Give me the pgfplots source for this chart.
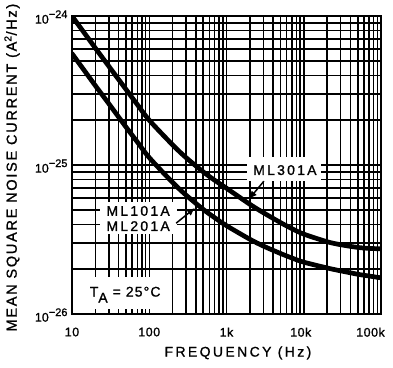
\documentclass[border=0pt]{standalone}
\usepackage{fontspec}
\setmainfont{Liberation Sans}[FakeBold=1.1]
\usepackage{pgfplots}
\pgfplotsset{compat=1.18}
\usetikzlibrary{arrows.meta}
\newcommand{\ytl}[1]{10\raisebox{0.45em}{\fontsize{11}{11}\selectfont −#1}}
\begin{document}
\begin{tikzpicture}
\begin{axis}[
  scale only axis, width=309pt, height=298pt,
  xmode=log, ymode=log,
  xmin=10, xmax=100000, ymin=1e-26, ymax=1e-24,
  grid=both,
  major grid style={black, line width=1.5pt},
  minor grid style={black, line width=1.5pt},
  axis line style={black, line width=2.2pt},
  tick style={draw=none},
  xtick={10,100,1000,10000,100000},
  xticklabels={10,100,1k,\hspace*{-6pt}10k,\hspace*{-21pt}100k},
  minor xtick={20,30,40,50,60,70,80,90,200,300,400,500,600,700,800,900,2000,3000,4000,5000,6000,7000,8000,9000,20000,30000,40000,50000,60000,70000,80000,90000},
  ytick={1e-26,1e-25,1e-24},
  yticklabels={\ytl{26},\ytl{25},\ytl{24}},
  minor ytick={2e-26,3e-26,4e-26,5e-26,6e-26,7e-26,8e-26,9e-26,2e-25,3e-25,4e-25,5e-25,6e-25,7e-25,8e-25,9e-25},
  xticklabel style={font=\fontsize{12.5}{14}\selectfont\addfontfeature{LetterSpace=4}, anchor=north, yshift=-10pt},
  yticklabel style={font=\fontsize{12.5}{14}\selectfont, anchor=east, xshift=-1pt, yshift=-1pt},
  xlabel={FREQUENCY (Hz)},
  ylabel={MEAN SQUARE NOISE CURRENT (A\textsuperscript{2}/Hz)},
  xlabel style={font=\fontsize{14}{16}\selectfont\addfontfeature{LetterSpace=17}, at={(rel axis cs:0.537,-0.1305)}, anchor=center},
  ylabel style={font=\fontsize{14.5}{16}\selectfont\addfontfeature{LetterSpace=12}, at={(rel axis cs:-0.194,0.4916)}, anchor=center},
]
% ML301A
\addplot[black, line width=4.7pt, smooth, line cap=round] coordinates {
 (10,1.0e-24) (20,6.11e-25) (30,4.60e-25) (50,3.22e-25) (70,2.55e-25) (100,2.0e-25)
 (200,1.368e-25) (300,1.121e-25) (500,9.0e-26) (700,7.92e-26) (1000,6.99e-26)
 (2000,5.46e-26) (3000,4.79e-26) (5000,4.11e-26) (7000,3.75e-26) (10000,3.44e-26)
 (20000,3.06e-26) (30000,2.92e-26) (50000,2.80e-26) (70000,2.76e-26) (100000,2.74e-26)
};
% ML101A / ML201A
\addplot[black, line width=4.7pt, smooth, line cap=round] coordinates {
 (10,5.6e-25) (20,3.42e-25) (30,2.58e-25) (50,1.80e-25) (70,1.43e-25) (100,1.122e-25)
 (200,7.66e-26) (300,6.28e-26) (500,5.04e-26) (700,4.44e-26) (1000,3.92e-26)
 (2000,3.18e-26) (3000,2.86e-26) (5000,2.55e-26) (7000,2.38e-26) (10000,2.23e-26)
 (20000,2.04e-26) (30000,1.95e-26) (50000,1.85e-26) (70000,1.80e-26) (100000,1.75e-26)
};
\fill[white] (rel axis cs:0.566,0.446) rectangle (rel axis cs:0.806,0.527);
\fill[white] (rel axis cs:0.0906,0.268) rectangle (rel axis cs:0.340,0.376);
\fill[white] (rel axis cs:0.008,0.0185) rectangle (rel axis cs:0.324,0.124);
\node[font=\fontsize{14}{16}\selectfont\addfontfeature{LetterSpace=16}, inner sep=0] at (rel axis cs:0.689,0.483) {ML301A};
\node[font=\fontsize{14}{16}\selectfont\addfontfeature{LetterSpace=16}, inner sep=0] at (rel axis cs:0.214,0.346) {ML101A};
\node[font=\fontsize{14}{16}\selectfont\addfontfeature{LetterSpace=16}, inner sep=0] at (rel axis cs:0.214,0.295) {ML201A};
\node[font=\fontsize{14}{16}\selectfont\addfontfeature{LetterSpace=8}, inner sep=0] at (rel axis cs:0.172,0.065) {T\raisebox{-6pt}{A} = 25°C};
\draw[-{Latex[length=8pt,width=7pt]}, line width=1.5pt] (rel axis cs:0.621,0.446) -- (rel axis cs:0.573,0.386);
\draw[-{Latex[length=8pt,width=7pt]}, line width=1.5pt] (rel axis cs:0.337,0.305) -- (rel axis cs:0.398,0.356);
\coordinate (bl) at (rel axis cs:-0.2330,-0.1779);
\coordinate (tr) at (rel axis cs:1.0388,1.0537);
\end{axis}
\pgfresetboundingbox
\path[use as bounding box] (bl) rectangle (tr);
\end{tikzpicture}
\end{document}
